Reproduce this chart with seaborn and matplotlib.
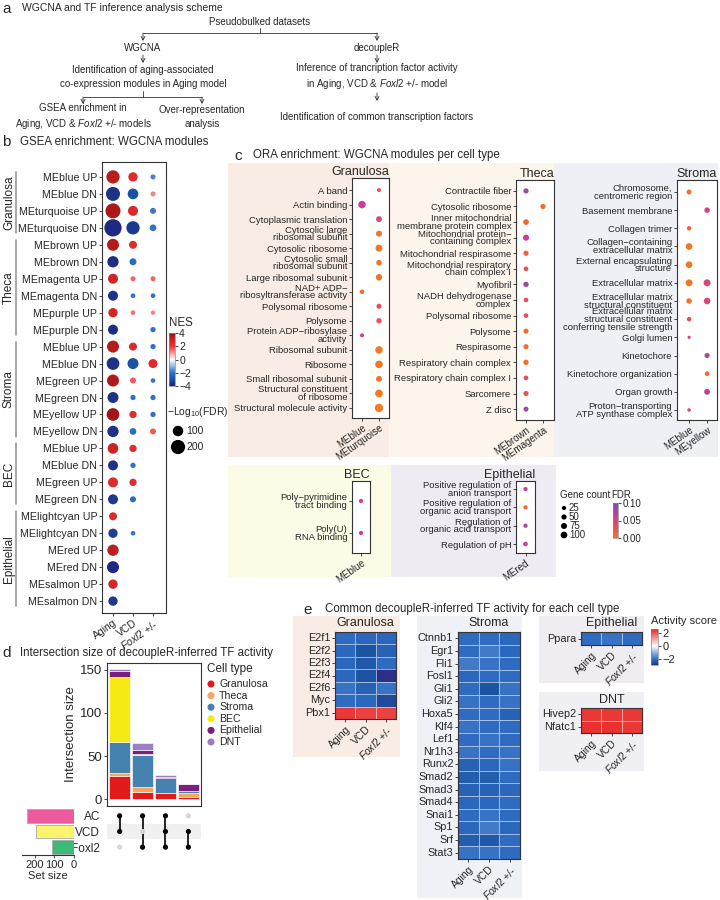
# Multi-panel figure: WGCNA / decoupleR summary (panels a-e)

import numpy as np
import pandas as pd
import matplotlib
matplotlib.use("Agg")
import matplotlib.pyplot as plt
import seaborn as sns
from matplotlib.colors import LinearSegmentedColormap, Normalize
from matplotlib.patches import Rectangle
from matplotlib.cm import ScalarMappable
from matplotlib.transforms import blended_transform_factory

sns.set_theme(style="ticks")
plt.rcParams["font.family"] = ["Liberation Sans", "DejaVu Sans"]
plt.rcParams["mathtext.fontset"] = "custom"
plt.rcParams["mathtext.rm"] = "Liberation Sans"
plt.rcParams["mathtext.it"] = "Liberation Sans:italic"
plt.rcParams["axes.edgecolor"] = "#333333"
plt.rcParams["axes.linewidth"] = 0.8
plt.rcParams["xtick.major.size"] = 2
plt.rcParams["ytick.major.size"] = 2
plt.rcParams["xtick.major.width"] = 0.6
plt.rcParams["ytick.major.width"] = 0.6
plt.rcParams["xtick.major.pad"] = 1.5
plt.rcParams["ytick.major.pad"] = 1.5

# ---------------- data ----------------
# b: GSEA of WGCNA modules
b_groups = ["Granulosa", "Theca", "Stroma", "BEC", "Epithelial"]
b_group_sizes = [4, 6, 6, 4, 6]
b_modules = ["MEblue UP", "MEblue DN", "MEturquoise UP", "MEturquoise DN",
             "MEbrown UP", "MEbrown DN", "MEmagenta UP", "MEmagenta DN", "MEpurple UP", "MEpurple DN",
             "MEblue UP", "MEblue DN", "MEgreen UP", "MEgreen DN", "MEyellow UP", "MEyellow DN",
             "MEblue UP", "MEblue DN", "MEgreen UP", "MEgreen DN",
             "MElightcyan UP", "MElightcyan DN", "MEred UP", "MEred DN", "MEsalmon UP", "MEsalmon DN"]
b_models = ["Aging", "VCD", r"$\it{Foxl2}$ +/-"]
b_nes_aging = [3.3, -3.6, 3.6, -3.8, 3.4, -3.7, 2.8, -3.6, 2.7, -3.7,
               3.4, -3.6, 3.5, -3.6, 3.8, -3.6, 2.9, -3.6, 2.4, -3.5,
               2.5, -3.4, 3.2, -3.8, 2.7, -3.5]
b_nes_vcd = [2.4, -3.0, 2.5, -3.5, 2.4, -2.2, 1.5, -2.0, 1.4, None,
             2.5, -3.0, 1.6, -2.0, 2.4, -2.1, 2.4, -2.0, 2.3, -2.1,
             None, -1.9, None, None, None, None]
b_nes_foxl2 = [-1.8, 1.2, -1.9, -2.0, None, None, 1.5, -2.0, 1.2, -2.0,
               -2.0, 2.4, -1.9, -2.0, -2.0, 1.6, None, None, None, None,
               None, None, None, None, None, None]
b_lfdr_aging = [174, 196, 228, 310, 138, 120, 89, 89, 74, 89,
                138, 157, 138, 112, 157, 120, 105, 89, 89, 89,
                49, 74, 120, 138, 74, 74]
b_lfdr_vcd = [74, 105, 89, 174, 49, 32, 6, 2, 2, None,
              49, 112, 18, 9, 37, 28, 37, 9, 37, 18,
              None, 2, None, None, None, None]
b_lfdr_foxl2 = [6, 6, 18, 28, None, None, 6, 2, 0, 9,
                9, 68, 2, 9, 9, 18, None, None, None, None,
                None, None, None, None, None, None]

# c: ORA per cell type
gran_terms = ["A band", "Actin binding", "Cytoplasmic translation", "Cytosolic large\nribosomal subunit",
              "Cytosolic ribosome", "Cytosolic small\nribosomal subunit", "Large ribosomal subunit",
              "NAD+ ADP\u2212\nribosyltransferase activity", "Polysomal ribosome", "Polysome",
              "Protein ADP\u2212ribosylase\nactivity", "Ribosomal subunit", "Ribosome",
              "Small ribosomal subunit", "Structural constituent\nof ribosome", "Structural molecule activity"]
gran_modules = ["MEblue", "MEturquoise"]
gran_dot_module = ["MEturquoise", "MEblue", "MEturquoise", "MEturquoise", "MEturquoise", "MEturquoise",
                   "MEturquoise", "MEblue", "MEturquoise", "MEturquoise", "MEblue", "MEturquoise",
                   "MEturquoise", "MEturquoise", "MEturquoise", "MEturquoise"]
gran_dot_count = [20, 130, 70, 75, 110, 60, 90, 30, 45, 55, 20, 130, 135, 75, 140, 170]
gran_dot_fdr = [0.025, 0.06, 0.04, 0.005, 0.003, 0.006, 0.004, 0.01, 0.03, 0.025, 0.06,
                0.001, 0.001, 0.004, 0.001, 0.001]

theca_terms = ["Contractile fiber", "Cytosolic ribosome", "Inner mitochondrial\nmembrane protein complex",
               "Mitochondrial protein\u2212\ncontaining complex", "Mitochondrial respirasome",
               "Mitochondrial respiratory\nchain complex I", "Myofibril", "NADH dehydrogenase\ncomplex",
               "Polysomal ribosome", "Polysome", "Respirasome", "Respiratory chain complex",
               "Respiratory chain complex I", "Sarcomere", "Z disc"]
theca_modules = ["MEbrown", "MEmagenta"]
theca_dot_module = ["MEbrown", "MEmagenta"] + ["MEbrown"] * 13
theca_dot_count = [50, 50, 65, 80, 50, 35, 55, 35, 35, 50, 50, 55, 35, 50, 45]
theca_dot_fdr = [0.08, 0.01, 0.01, 0.06, 0.015, 0.03, 0.085, 0.03, 0.03, 0.008, 0.008, 0.008,
                 0.03, 0.025, 0.08]

stroma_terms = ["Chromosome,\ncentromeric region", "Basement membrane", "Collagen trimer",
                "Collagen\u2212containing\nextracellular matrix", "External encapsulating\nstructure",
                "Extracellular matrix", "Extracellular matrix\nstructural constituent",
                "Extracellular matrix\nstructural constituent\nconferring tensile strength", "Golgi lumen",
                "Kinetochore", "Kinetochore organization", "Organ growth",
                "Proton\u2212transporting\nATP synthase complex"]
stroma_modules = ["MEblue", "MEyellow"]
stroma_dot_term = [0, 1, 2, 3, 4, 5, 5, 6, 6, 7, 8, 9, 10, 11, 12]
stroma_dot_module = ["MEblue", "MEyellow", "MEblue", "MEblue", "MEblue", "MEblue", "MEyellow", "MEblue",
                     "MEyellow", "MEblue", "MEblue", "MEyellow", "MEyellow", "MEyellow", "MEblue"]
stroma_dot_count = [45, 60, 30, 100, 100, 110, 110, 60, 95, 30, 3, 50, 35, 70, 10]
stroma_dot_fdr = [0.008, 0.05, 0.015, 0.003, 0.003, 0.002, 0.045, 0.006, 0.045, 0.03, 0.05,
                  0.075, 0.01, 0.07, 0.05]

bec_terms = ["Poly\u2212pyrimidine\ntract binding", "Poly(U)\nRNA binding"]
bec_modules = ["MEblue"]
bec_dot_module = ["MEblue", "MEblue"]
bec_dot_count = [25, 25]
bec_dot_fdr = [0.055, 0.06]

epi_terms = ["Positive regulation of\nanion transport", "Positive regulation of\norganic acid transport",
             "Regulation of\norganic acid transport", "Regulation of pH"]
epi_modules = ["MEred"]
epi_dot_module = ["MEred"] * 4
epi_dot_count = [25, 25, 25, 35]
epi_dot_fdr = [0.06, 0.012, 0.08, 0.06]

# d: upset of decoupleR TFs
d_sets = ["AC", "VCD", "Foxl2"]
d_set_size = [238, 192, 110]
d_set_colors = ["#ee5a9e", "#fbf46c", "#3dba7a"]
d_member_ac = [1, 1, 1, 0]
d_member_vcd = [1, 0, 1, 1]
d_member_foxl2 = [0, 1, 1, 1]
d_celltypes = ["Granulosa", "Theca", "Stroma", "BEC", "Epithelial", "DNT"]
d_colors = ["#e31a1c", "#f8a55e", "#4682b0", "#f5ea14", "#7a1f7e", "#9b7ec4"]
d_granulosa = [27, 8, 7, 3]
d_theca = [3, 6, 0, 4]
d_stroma = [36, 37, 18, 2]
d_bec = [76, 1, 0, 0]
d_epithelial = [7, 5, 1, 8]
d_dnt = [2, 8, 2, 1]

# e: TF activity heatmaps
e_models = ["Aging", "VCD", r"$\it{Foxl2}$ +/-"]
e_gran_tfs = ["E2f1", "E2f2", "E2f3", "E2f4", "E2f6", "Myc", "Pbx1"]
e_gran_aging = [-2.0, -2.1, -2.1, -2.1, -1.9, -2.0, 2.3]
e_gran_vcd = [-2.1, -2.5, -2.4, -2.5, -2.2, -2.1, 2.2]
e_gran_foxl2 = [-2.1, -2.2, -2.0, -3.0, -1.9, -2.6, 2.2]
e_stroma_tfs = ["Ctnnb1", "Egr1", "Fli1", "Fosl1", "Gli1", "Gli2", "Hoxa5", "Klf4", "Lef1",
                "Nr1h3", "Runx2", "Smad2", "Smad3", "Smad4", "Snai1", "Sp1", "Srf", "Stat3"]
e_stroma_aging = [-2.0, -2.0, -1.8, -2.1, -2.0, -1.9, -2.0, -1.9, -2.0,
                  -1.9, -2.2, -2.3, -2.2, -2.1, -2.0, -2.1, -2.3, -1.9]
e_stroma_vcd = [-2.0, -1.8, -1.9, -2.0, -2.5, -2.0, -2.0, -2.0, -1.9,
                -2.0, -2.1, -2.3, -2.2, -2.1, -1.9, -1.8, -2.4, -1.9]
e_stroma_foxl2 = [-2.1, -2.1, -2.0, -2.0, -1.9, -1.9, -2.2, -2.0, -2.0,
                  -1.9, -1.9, -2.0, -2.1, -2.0, -2.0, -2.1, -2.0, -2.0]
e_epi_tfs = ["Ppara"]
e_epi_aging = [-2.0]
e_epi_vcd = [-1.9]
e_epi_foxl2 = [-2.0]
e_dnt_tfs = ["Hivep2", "Nfatc1"]
e_dnt_aging = [2.3, 2.4]
e_dnt_vcd = [2.3, 2.4]
e_dnt_foxl2 = [2.3, 2.3]

# ---------------- colour scales ----------------
nes_cmap = LinearSegmentedColormap.from_list(
    "nes", [(0, "#1f2079"), (0.125, "#1c52a2"), (0.25, "#3070c6"), (0.5, "#ffffff"),
            (0.75, "#ee3232"), (0.875, "#c82222"), (1, "#971414")])
nes_norm = Normalize(-4, 4)
fdr_cmap = LinearSegmentedColormap.from_list(
    "fdr", [(0, "#f47a1f"), (0.3, "#e84c5c"), (0.6, "#cc3f9c"), (1, "#7b4fa6")])
fdr_norm = Normalize(0, 0.1)
act_cmap = LinearSegmentedColormap.from_list(
    "act", [(0, "#2b2f86"), (0.073, "#1c55a3"), (0.164, "#2f6cc2"), (0.345, "#8fb2e0"),
            (0.527, "#ffffff"), (1, "#e8201f")])
act_norm = Normalize(-2.9, 2.6)
NES_SIZES, NES_SNORM = (10.4, 160), (0, 320)
GC_SIZES, GC_SNORM = (4.7, 42), (0, 200)

# ---------------- figure ----------------
W, H = 720, 900
fig = plt.figure(figsize=(7.2, 9), dpi=100)
canvas = fig.add_axes([0, 0, 1, 1])
canvas.set_xlim(0, W)
canvas.set_ylim(H, 0)
canvas.axis("off")


def add_ax(x0, y0, x1, y1):
    return fig.add_axes([x0 / W, 1 - y1 / H, (x1 - x0) / W, (y1 - y0) / H])


def bg(x0, y0, x1, y1, color):
    canvas.add_patch(Rectangle((x0, y0), x1 - x0, y1 - y0, color=color, lw=0, zorder=0))


def txt(x, y, s, size=7, ha="center", **kw):
    canvas.text(x, y, s, fontsize=size, ha=ha, va="center", **kw)


def arrow(x, y0, y1):
    canvas.annotate("", xy=(x, y1), xytext=(x, y0),
                    arrowprops=dict(arrowstyle="->,head_length=0.35,head_width=0.18", lw=0.6,
                                    mutation_scale=8, color="#333333", shrinkA=0, shrinkB=0))


def line(xs, ys):
    canvas.plot(xs, ys, color="#333333", lw=0.6)


# panel letters and titles
txt(2, 9, "a", size=11, ha="left")
txt(22, 8, "WGCNA and TF inference analysis scheme", size=7.5, ha="left")
txt(2, 142, "b", size=11, ha="left")
txt(20, 142, "GSEA enrichment: WGCNA modules", size=8.3, ha="left")
txt(234, 156, "c", size=11, ha="left")
txt(253, 155, "ORA enrichment: WGCNA modules per cell type", size=8.3, ha="left")
txt(2, 653, "d", size=11, ha="left")
txt(20, 653, "Intersection size of decoupleR-inferred TF activity", size=8.3, ha="left")
txt(303, 610, "e", size=11, ha="left")
txt(325, 609, "Common decoupleR-inferred TF activity for each cell type", size=8.3, ha="left")

# ---------------- a: scheme ----------------
txt(260, 22, "Pseudobulked datasets")
line([260, 260], [28, 33])
line([143, 377], [33, 33])
arrow(143, 33, 41)
arrow(377, 33, 41)
txt(143, 48, "WGCNA")
txt(377, 48, "decoupleR")
arrow(143, 55, 63)
arrow(377, 55, 63)
txt(143, 77, "Identification of aging-associated\nco-expression modules in Aging model", linespacing=1.45)
txt(377, 77, "Inference of trancription factor activity\nin Aging, VCD & $\\it{Foxl2}$ +/- model",
    linespacing=1.45)
line([143, 143], [91, 97])
line([83, 202], [97, 97])
arrow(83, 97, 104)
arrow(202, 97, 104)
arrow(377, 93, 101)
txt(83, 117, "GSEA enrichment in\nAging, VCD & $\\it{Foxl2}$ +/- models", linespacing=1.45)
txt(202, 117, "Over-representation\nanalysis", linespacing=1.45)
txt(377, 117, "Identification of common transcription factors")

# ---------------- b: GSEA dot plot ----------------
rows = []
for j, (nes_l, lf_l) in enumerate(zip([b_nes_aging, b_nes_vcd, b_nes_foxl2],
                                      [b_lfdr_aging, b_lfdr_vcd, b_lfdr_foxl2])):
    for i, (n, l) in enumerate(zip(nes_l, lf_l)):
        if n is not None:
            rows.append((j, i, n, l))
df_b = pd.DataFrame(rows, columns=["x", "y", "nes", "lfdr"])

ax_b = add_ax(102, 162, 166, 613)
sns.scatterplot(data=df_b, x="x", y="y", hue="nes", hue_norm=nes_norm, palette=nes_cmap,
                size="lfdr", sizes=NES_SIZES, size_norm=NES_SNORM, edgecolor="none",
                legend=False, ax=ax_b)
ax_b.set_yticks(range(len(b_modules)))
ax_b.set_yticklabels(b_modules, fontsize=7.7)
ax_b.set_xticks(range(len(b_models)))
ax_b.set_xticklabels(b_models, fontsize=7.5, rotation=35, ha="right", rotation_mode="anchor")
ax_b.set_xlabel("")
ax_b.set_ylabel("")

tr = blended_transform_factory(canvas.transData, ax_b.transData)
start = 0
for g, n in zip(b_groups, b_group_sizes):
    y0, y1 = start - 0.3, start + n - 1 + 0.3
    ax_b.plot([16, 16], [y0, y1], transform=tr, color="#9a9a9a", lw=1.2, clip_on=False)
    ax_b.text(9, (y0 + y1) / 2, g, transform=tr, rotation=90, ha="center", va="center", fontsize=8.5)
    start += n
ax_b.set_xlim(-0.55, 2.65)
ax_b.set_ylim(25.7, -0.88)

# NES colourbar + size legend
txt(169, 323, "NES", size=8.3, ha="left")
cax = add_ax(169, 333, 175, 386)
cb = fig.colorbar(ScalarMappable(nes_norm, nes_cmap), cax=cax, ticks=[-4, -2, 0, 2, 4])
cb.outline.set_linewidth(0.5)
cb.outline.set_edgecolor("#888888")
cax.tick_params(labelsize=7.5, length=2, pad=1)
txt(167, 412, "\u2212Log$_{10}$(FDR)", size=7.5, ha="left")
for v, yy in zip([100, 200], [431, 447]):
    s = NES_SIZES[0] + (NES_SIZES[1] - NES_SIZES[0]) * v / NES_SNORM[1]
    canvas.scatter([178], [yy], s=s, color="black", edgecolor="none")
    txt(186, yy, str(v), size=7.5, ha="left")

# ---------------- c: ORA dot plots ----------------
bg(228, 163, 389, 457, "#f9ece4")
bg(389, 163, 554, 457, "#fdf4ec")
bg(554, 163, 718, 457, "#eef0f5")
bg(228, 465, 391, 577, "#fcfbe6")
bg(391, 465, 556, 577, "#efebf3")


def ora_panel(box, terms, modules, dot_term, dot_module, dot_count, dot_fdr, title, xlim, ylim):
    ax = add_ax(*box)
    df = pd.DataFrame({"x": [modules.index(m) for m in dot_module], "y": dot_term,
                       "count": dot_count, "fdr": dot_fdr})
    sns.scatterplot(data=df, x="x", y="y", hue="fdr", hue_norm=fdr_norm, palette=fdr_cmap,
                    size="count", sizes=GC_SIZES, size_norm=GC_SNORM, edgecolor="none",
                    legend=False, ax=ax)
    ax.set_yticks(range(len(terms)))
    ax.set_yticklabels(terms, fontsize=6.8, linespacing=0.8)
    ax.set_xticks(range(len(modules)))
    ax.set_xticklabels(modules, fontsize=7, rotation=35, ha="right", rotation_mode="anchor")
    ax.set_xlabel("")
    ax.set_ylabel("")
    ax.set_xlim(*xlim)
    ax.set_ylim(*ylim)
    ax.set_title(title, loc="right", fontsize=9, pad=1.5)
    return ax


ora_panel((352, 178, 389, 418), gran_terms, gran_modules, list(range(len(gran_terms))),
          gran_dot_module, gran_dot_count, gran_dot_fdr, "Granulosa", (-0.59, 1.59), (15.69, -0.83))
ora_panel((516, 180, 554, 420), theca_terms, theca_modules, list(range(len(theca_terms))),
          theca_dot_module, theca_dot_count, theca_dot_fdr, "Theca", (-0.59, 1.65), (14.7, -0.7))
ora_panel((677, 180, 717, 420), stroma_terms, stroma_modules, stroma_dot_term,
          stroma_dot_module, stroma_dot_count, stroma_dot_fdr, "Stroma", (-0.67, 1.55), (12.55, -0.66))
ora_panel((352, 481, 370, 553), bec_terms, bec_modules, list(range(len(bec_terms))),
          bec_dot_module, bec_dot_count, bec_dot_fdr, "BEC", (-0.5, 0.5), (1.625, -0.625))
ora_panel((516, 481, 535, 553), epi_terms, epi_modules, list(range(len(epi_terms))),
          epi_dot_module, epi_dot_count, epi_dot_fdr, "Epithelial", (-0.5, 0.5), (3.49, -0.44))

# gene count + FDR legends
txt(560, 495, "Gene count", size=7, ha="left")
for gc, yy in zip([25, 50, 75, 100], [508, 517, 526, 535]):
    s = GC_SIZES[0] + (GC_SIZES[1] - GC_SIZES[0]) * gc / GC_SNORM[1]
    canvas.scatter([564], [yy], s=s, color="black", edgecolor="none")
    txt(569, yy, str(gc), size=7, ha="left")
txt(611, 495, "FDR", size=7, ha="left")
cax = add_ax(613, 503, 618, 538)
cb = fig.colorbar(ScalarMappable(fdr_norm, fdr_cmap), cax=cax, ticks=[0, 0.05, 0.1])
cb.outline.set_linewidth(0.5)
cb.outline.set_edgecolor("#888888")
cax.set_yticklabels(["0.00", "0.05", "0.10"])
cax.tick_params(labelsize=7, length=2, pad=1)

# ---------------- d: upset ----------------
ax_d = add_ax(107, 663, 201, 806)
xpos = np.arange(len(d_granulosa))
bottom = np.zeros(len(xpos))
for vals, col in zip([d_granulosa, d_theca, d_stroma, d_bec, d_epithelial, d_dnt], d_colors):
    ax_d.bar(xpos, vals, bottom=bottom, width=0.9, color=col, edgecolor="white", linewidth=0.4)
    bottom += np.array(vals)
ax_d.set_xlim(-0.55, 3.55)
ax_d.set_ylim(-8, 158)
ax_d.set_xticks([])
ax_d.set_yticks([0, 50, 100, 150])
ax_d.tick_params(axis="y", labelsize=9.5)
ax_d.set_ylabel("Intersection size", fontsize=9.5, labelpad=2)

txt(207, 669, "Cell type", size=8.5, ha="left")
for i, (ct, col) in enumerate(zip(d_celltypes, d_colors)):
    canvas.scatter([211], [684 + 11.6 * i], s=26, color=col, edgecolor="none")
    txt(219, 684 + 11.6 * i, ct, size=7.6, ha="left")

ax_m = add_ax(107, 808, 201, 855)
ax_m.axhspan(0.5, 1.5, color="#f0f0f0", lw=0)
members = np.array([d_member_ac, d_member_vcd, d_member_foxl2])
for j in range(members.shape[1]):
    for i in range(members.shape[0]):
        ax_m.scatter(j, i, s=14, color="black" if members[i, j] else "#d6d6d6", edgecolor="none", zorder=3)
    on = np.where(members[:, j] == 1)[0]
    ax_m.plot([j, j], [on.min(), on.max()], color="black", lw=1.2, zorder=2)
ax_m.set_xlim(-0.55, 3.55)
ax_m.set_ylim(2.5, -0.5)
ax_m.set_xticks([])
ax_m.set_yticks(range(len(d_sets)))
ax_m.set_yticklabels(d_sets, fontsize=8.5)
ax_m.tick_params(axis="y", length=0, pad=5)
for s in ax_m.spines.values():
    s.set_visible(False)

ax_s = add_ax(22, 808, 74, 855)
ax_s.barh(range(len(d_sets)), d_set_size, height=0.88, color=d_set_colors, edgecolor="#aaaaaa", lw=0.6)
ax_s.set_xlim(265, 0)
ax_s.set_ylim(2.5, -0.5)
ax_s.set_yticks([])
ax_s.set_xticks([200, 100, 0])
ax_s.tick_params(axis="x", labelsize=8)
ax_s.set_xlabel("Set size", fontsize=8, labelpad=1)
for k in ["top", "left", "right"]:
    ax_s.spines[k].set_visible(False)

# ---------------- e: heatmaps ----------------
bg(293, 616, 400, 757, "#f9ece4")
bg(417, 616, 522, 898, "#eef1f6")
bg(539, 616, 644, 683, "#f0edf2")
bg(539, 692, 644, 771, "#f0eff4")


def heat(box, tfs, a, v, f, title, title_y):
    ax = add_ax(*box)
    df = pd.DataFrame({"Aging": a, "VCD": v, "Foxl2": f}, index=tfs)
    sns.heatmap(df, ax=ax, cmap=act_cmap, vmin=act_norm.vmin, vmax=act_norm.vmax, cbar=False,
                linewidths=0.6, linecolor=(1, 1, 1, 0.55), xticklabels=e_models, yticklabels=tfs)
    plt.setp(ax.get_yticklabels(), rotation=0, fontsize=7.8)
    plt.setp(ax.get_xticklabels(), rotation=45, ha="right", rotation_mode="anchor", fontsize=7.4)
    ax.tick_params(length=2, pad=1.5)
    for s in ax.spines.values():
        s.set_visible(True)
        s.set_color("#333333")
        s.set_linewidth(0.8)
    ax.set_xlabel("")
    ax.set_ylabel("")
    x0, _, x1, _ = box
    txt((x0 + x1) / 2, title_y, title, size=9)
    return ax


heat((335, 632, 396, 719), e_gran_tfs, e_gran_aging, e_gran_vcd, e_gran_foxl2, "Granulosa", 623)
heat((458, 632, 520, 859), e_stroma_tfs, e_stroma_aging, e_stroma_vcd, e_stroma_foxl2, "Stroma", 623)
heat((581, 632, 642, 645), e_epi_tfs, e_epi_aging, e_epi_vcd, e_epi_foxl2, "Epithelial", 623)
heat((581, 708, 642, 733), e_dnt_tfs, e_dnt_aging, e_dnt_vcd, e_dnt_foxl2, "DNT", 700)

txt(651, 621, "Activity score", size=8, ha="left")
cax = add_ax(651, 629, 658, 665)
cb = fig.colorbar(ScalarMappable(act_norm, act_cmap), cax=cax, ticks=[-2, 0, 2])
cb.outline.set_linewidth(0.5)
cb.outline.set_edgecolor("#888888")
cax.tick_params(labelsize=8, length=2, pad=1)

fig.savefig("out.png", dpi=100)
